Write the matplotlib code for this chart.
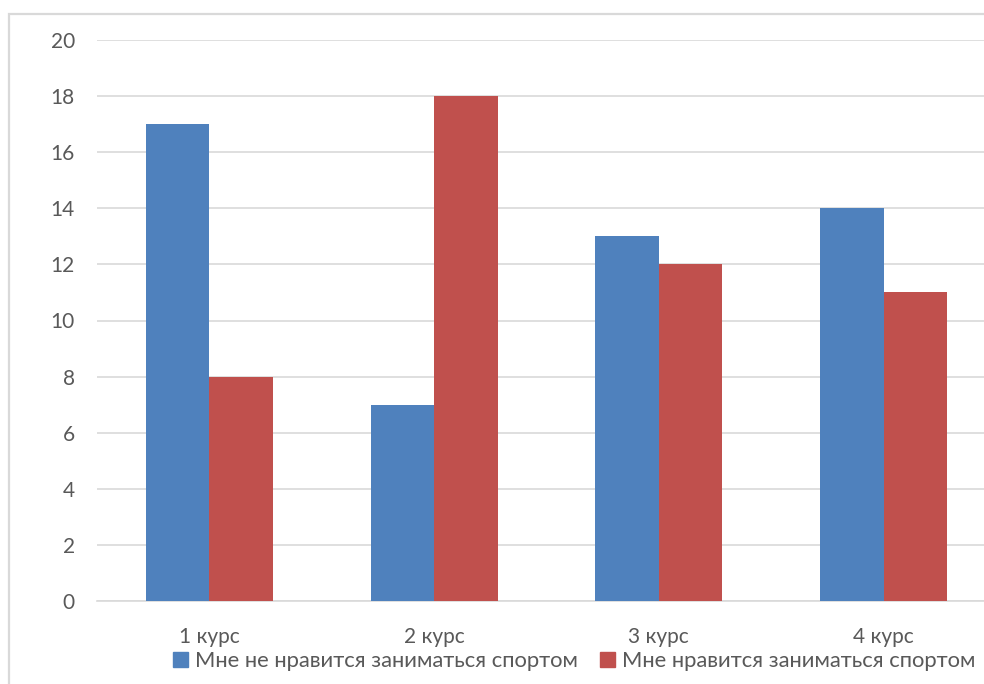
import numpy as np
import matplotlib
matplotlib.use('Agg')
import matplotlib.pyplot as plt
from matplotlib.patches import Patch, Rectangle

# Survey answers by year of study
courses = ['1 курс', '2 курс', '3 курс', '4 курс']
dislike = [17, 7, 13, 14]
like = [8, 18, 12, 11]
series_names = ['Мне не нравится заниматься спортом', 'Мне нравится заниматься спортом']
yticks = [0, 2, 4, 6, 8, 10, 12, 14, 16, 18, 20]

c_blue = '#4F81BD'
c_red = '#C0504D'
txt = '#595959'

plt.rcParams['font.family'] = ['Lato', 'DejaVu Sans']

fig = plt.figure(figsize=(9.84, 6.84), dpi=100)
# outer chart frame
fig.patches.append(Rectangle((9/984, -0.1), 1.2, (684-14)/684 + 0.1,
                             transform=fig.transFigure, fill=False,
                             edgecolor='#d9d9d9', linewidth=1.6))

ax = fig.add_axes([97/984, 83/684, 899/984, 561/684])
x = np.arange(len(courses))
w = 0.283
ax.bar(x - w/2, dislike, w, color=c_blue, zorder=3)
ax.bar(x + w/2, like, w, color=c_red, zorder=3)

ax.set_xlim(-0.5, len(courses) - 0.5)
ax.set_ylim(0, 20)
ax.set_yticks(yticks)
ax.set_xticks(x)
ax.set_xticklabels(courses)
ax.yaxis.grid(True, color='#d9d9d9', linewidth=1.2, zorder=0)
for s in ['top', 'right', 'left']:
    ax.spines[s].set_visible(False)
ax.spines['bottom'].set_color('#d9d9d9')
ax.spines['bottom'].set_linewidth(1.2)
ax.tick_params(axis='both', length=0, labelsize=15, colors=txt)
ax.tick_params(axis='y', pad=16)
ax.tick_params(axis='x', pad=19)

handles = [Patch(color=c_blue), Patch(color=c_red)]
fig.legend(handles, series_names, loc='center', bbox_to_anchor=(574/984, 23/684),
           ncol=2, frameon=False, fontsize=15.8, labelcolor=txt,
           handlelength=0.7, handleheight=0.7, handletextpad=0.3, columnspacing=1.0)

fig.savefig('out.png', dpi=100)
